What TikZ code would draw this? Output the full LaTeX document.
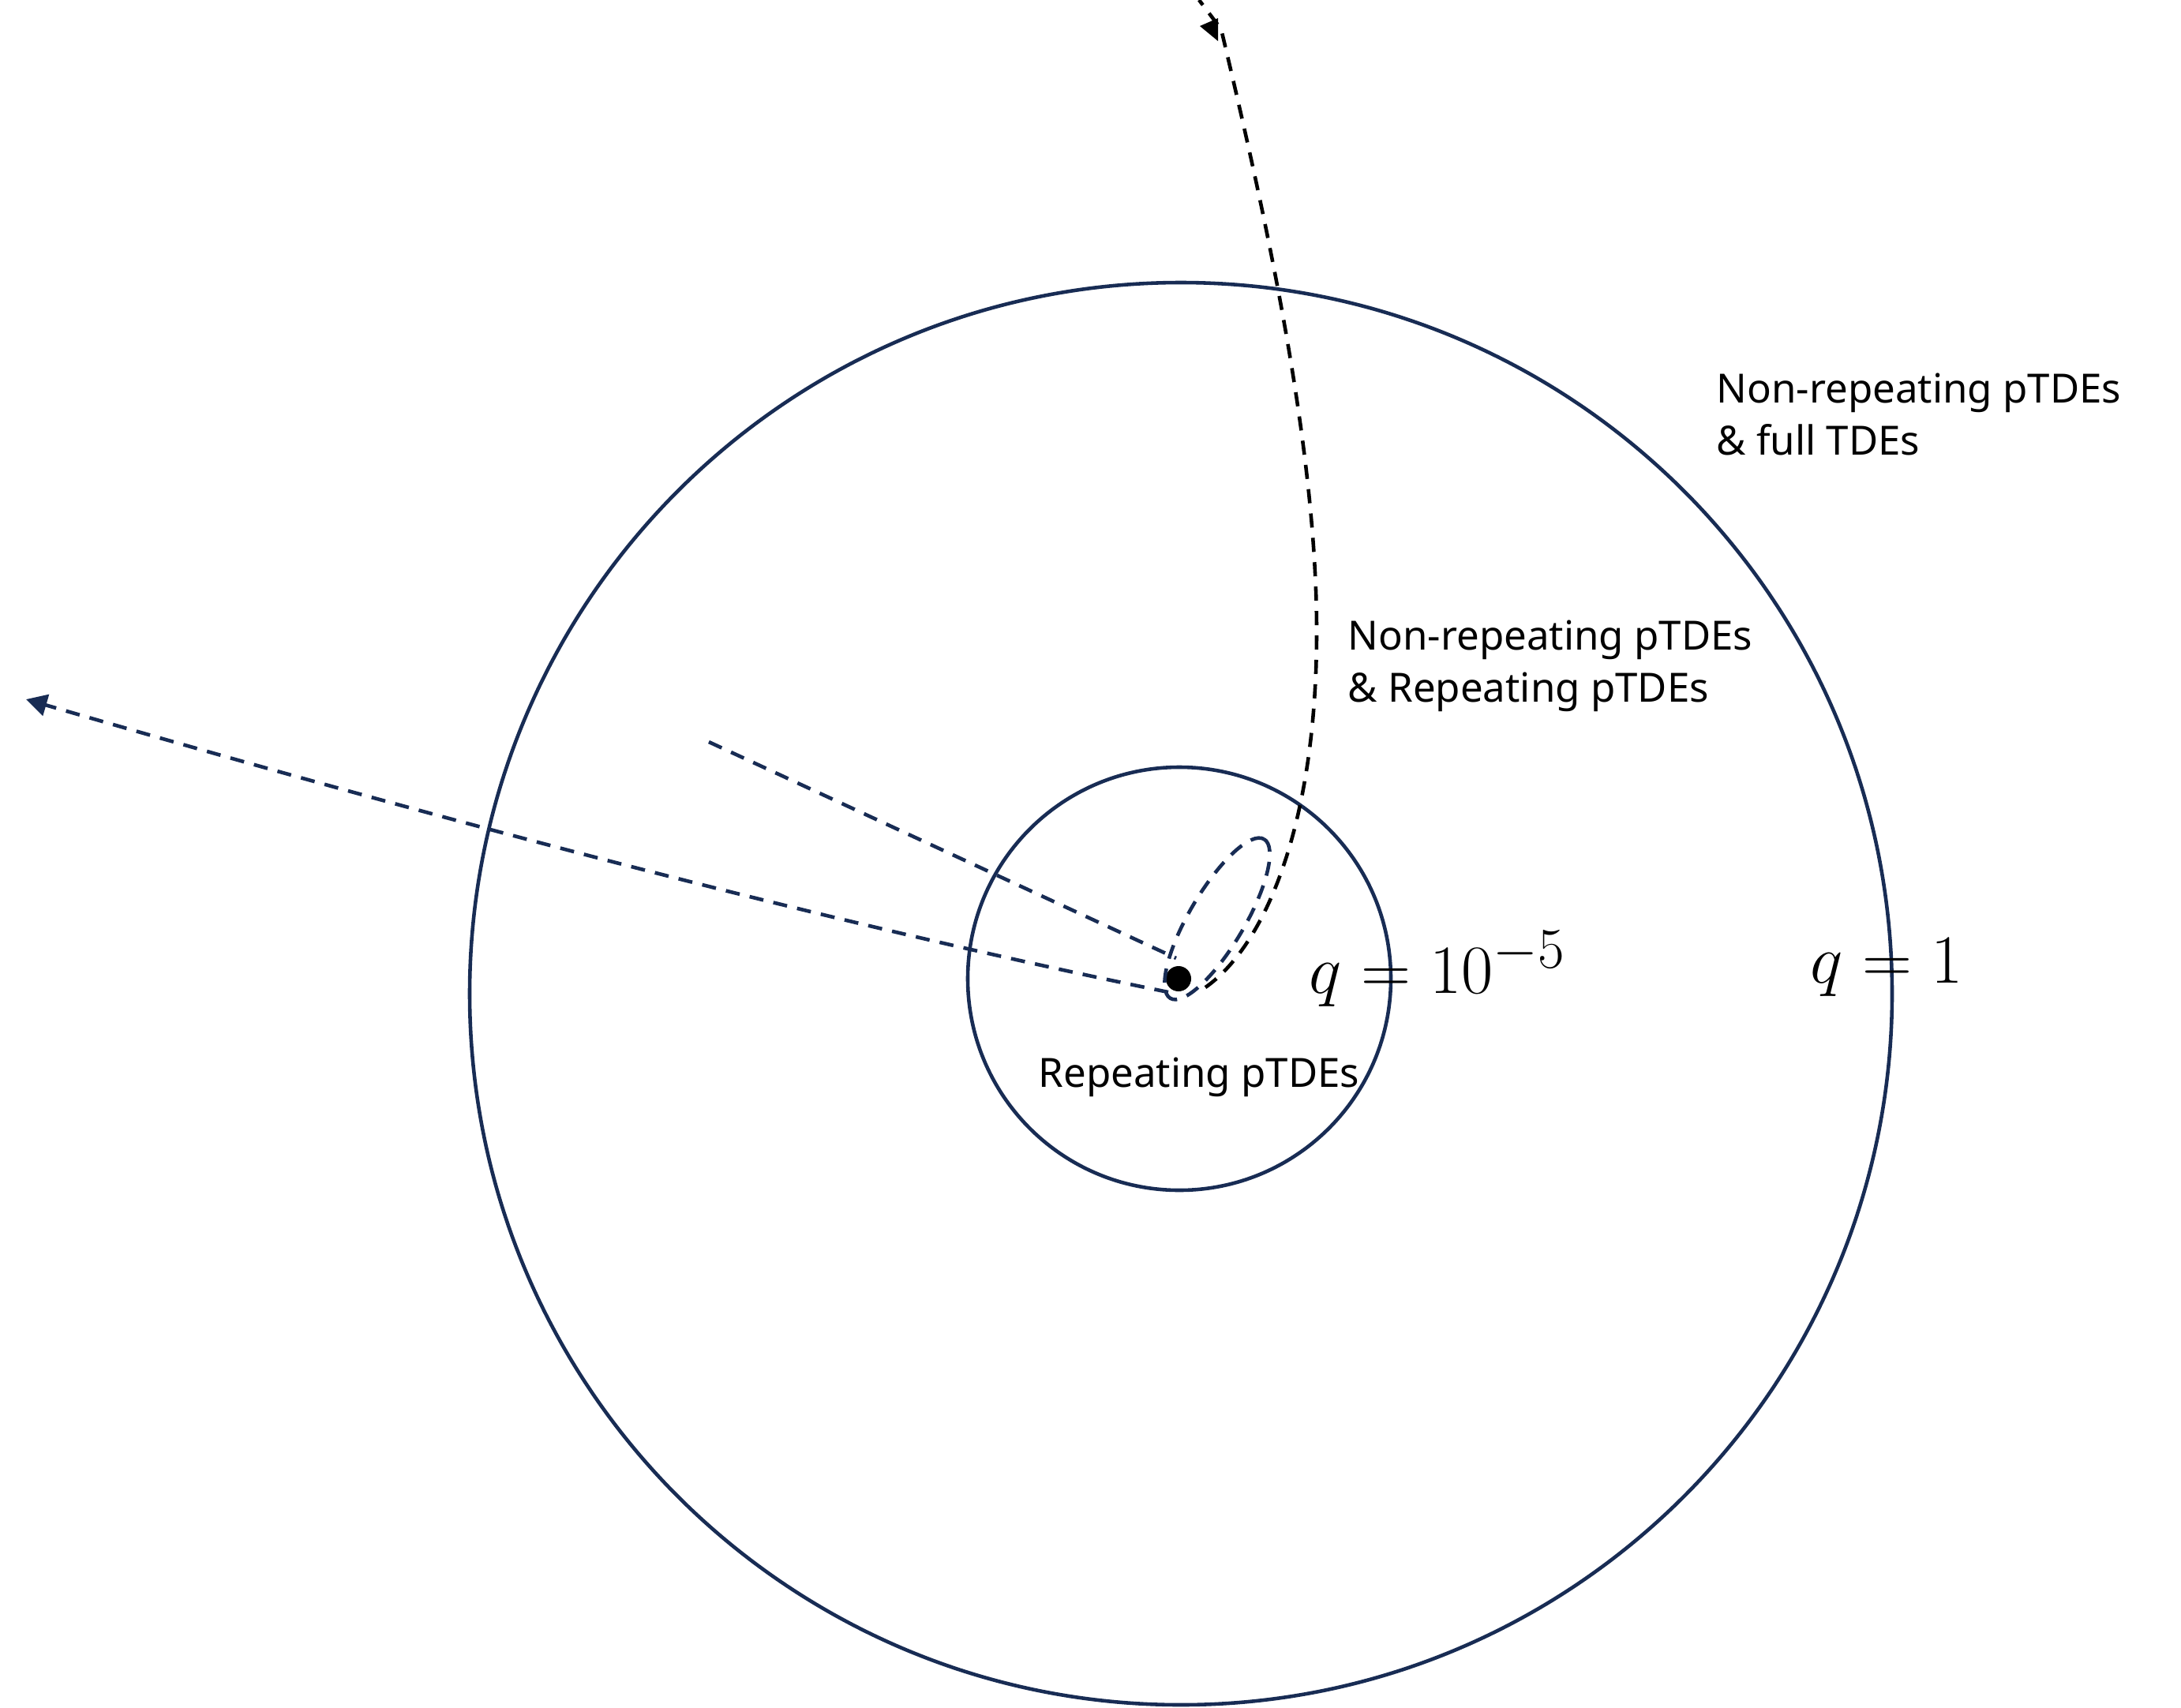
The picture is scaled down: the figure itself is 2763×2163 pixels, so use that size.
\documentclass[tikz,border=0pt]{standalone}
\usepackage[no-math]{fontspec}
\setmainfont{Noto Sans}
\usetikzlibrary{arrows.meta}
\definecolor{navy}{HTML}{182C54}
\begin{document}
\begin{tikzpicture}[x=0.01cm,y=-0.01cm,
  ring/.style={draw=navy, line width=1.3pt},
  orbit/.style={draw=navy, line width=1.3pt, dash pattern=on 5.1pt off 3.7pt},
  escape/.style={draw=black, line width=1.3pt, dash pattern=on 5.1pt off 3.7pt},
  lbl/.style={anchor=base west, inner sep=0pt, align=left, font=\fontsize{14.5}{18.5}\selectfont},
  qlbl/.style={anchor=base west, inner sep=0pt, font=\fontsize{24.88}{30}\selectfont}]
\useasboundingbox (0,0) rectangle (2763,2163);
% circles
\coordinate (cbig) at (1496,1259);
\coordinate (csmall) at (1494,1240);
\draw[ring] (cbig) circle [radius=901];
\draw[ring] (csmall) circle [radius=268];
% black hole
\node[circle, fill=black, inner sep=0pt, minimum size=0.32cm] (bh) at (1493,1240) {};
% coordinates of orbit ends
\coordinate (escstart) at (1527,1251);
\coordinate (escmid) at (1668,800);
\coordinate (escarrow) at (1547,37);
\coordinate (esctop) at (1519,0);
\coordinate (leftstart) at (1480,1257);
\coordinate (lefttip) at (33,886);
\coordinate (plungestart) at (898,940);
\coordinate (plungeend) at (1490,1214);
\coordinate (loopc) at (1542,1164);
% escaping orbit (black)
\draw[escape] (escstart) .. controls (1600,1200) and (1668,1050) .. (escmid)
  .. controls (1668,560) and (1600,260) .. (escarrow) -- (esctop);
\fill[black] (1520,33) -- (1543,23) -- (1543,52) -- cycle;
% long orbit to the left
\draw[orbit, -{Triangle[length=7.5pt,width=7.8pt]}] (leftstart) .. controls (1150,1190) and (700,1080) .. (lefttip);
% plunging line
\draw[orbit] (plungestart) -- (plungeend);
% bound loop
\draw[orbit, rotate around={59.5:(loopc)}] (loopc) ellipse [x radius=117, y radius=35];
% labels (base = baseline of the last line)
\node[lbl] (t1) at (2174,576) {Non-repeating pTDEs\\\& full TDEs};
\node[lbl] (t2) at (1707,889) {Non-repeating pTDEs\\\& Repeating pTDEs};
\node[lbl] (t3) at (1315,1377) {Repeating pTDEs};
\node[qlbl] (q5) at (1658,1258) {$q = 10^{-5}$};
\node[qlbl] (q1) at (2293,1245) {$q = 1$};
\end{tikzpicture}
\end{document}
